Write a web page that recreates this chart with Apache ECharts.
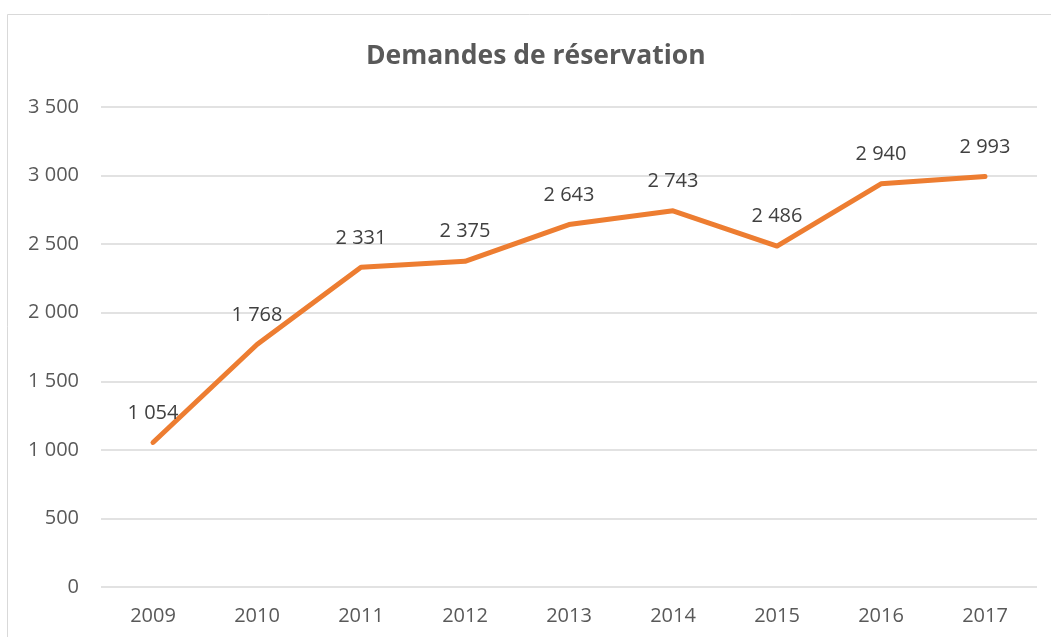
<!DOCTYPE html>
<html>
<head>
<meta charset="utf-8">
<script src="https://cdn.jsdelivr.net/npm/echarts@6/dist/echarts.min.js"></script>
<style>
  html, body { margin: 0; padding: 0; background: #fff; }
  #chart { width: 1051px; height: 637px; }
</style>
</head>
<body>
<div id="chart"></div>
<script>
  var years = ['2009', '2010', '2011', '2012', '2013', '2014', '2015', '2016', '2017'];
  var demandes = [1054, 1768, 2331, 2375, 2643, 2743, 2486, 2940, 2993];

  // séparateur de milliers avec espace
  function fmt(v) {
    return String(v).replace(/\B(?=(\d{3})+(?!\d))/g, ' ');
  }

  var chart = echarts.init(document.getElementById('chart'));
  chart.setOption({
    backgroundColor: '#fff',
    animation: false,
    textStyle: { fontFamily: '"Open Sans", sans-serif' },
    graphic: [{
      type: 'rect',
      shape: { x: 7.5, y: 14.5, width: 1060, height: 640 },
      style: { fill: 'none', stroke: '#d9d9d9', lineWidth: 1 },
      silent: true
    }],
    title: {
      text: 'Demandes de réservation',
      left: 361,
      top: 38,
      textStyle: { color: '#595959', fontSize: 26.5, fontWeight: 'bold', fontFamily: '"Open Sans", sans-serif' }
    },
    grid: { left: 101, right: 14, top: 107, bottom: 50, containLabel: false },
    xAxis: {
      type: 'category',
      data: years,
      boundaryGap: true,
      axisLine: { show: false },
      axisTick: { show: false },
      axisLabel: { color: '#595959', fontSize: 20, margin: 19 }
    },
    yAxis: {
      type: 'value',
      min: 0,
      max: 3500,
      interval: 500,
      axisLine: { show: false },
      axisTick: { show: false },
      axisLabel: { color: '#595959', fontSize: 20, margin: 22, formatter: fmt },
      splitLine: { lineStyle: { color: '#d9d9d9', width: 1.5 } }
    },
    series: [{
      type: 'line',
      data: demandes,
      symbol: 'circle',
      symbolSize: 1,
      showSymbol: true,
      itemStyle: { color: '#ED7D31', opacity: 0 },
      lineStyle: { color: '#ED7D31', width: 5, cap: 'round', join: 'round' },
      label: {
        show: true,
        position: 'top',
        distance: 19,
        color: '#404040',
        fontSize: 20,
        opacity: 1,
        formatter: function (p) { return fmt(p.value); }
      }
    }]
  });
</script>
</body>
</html>
